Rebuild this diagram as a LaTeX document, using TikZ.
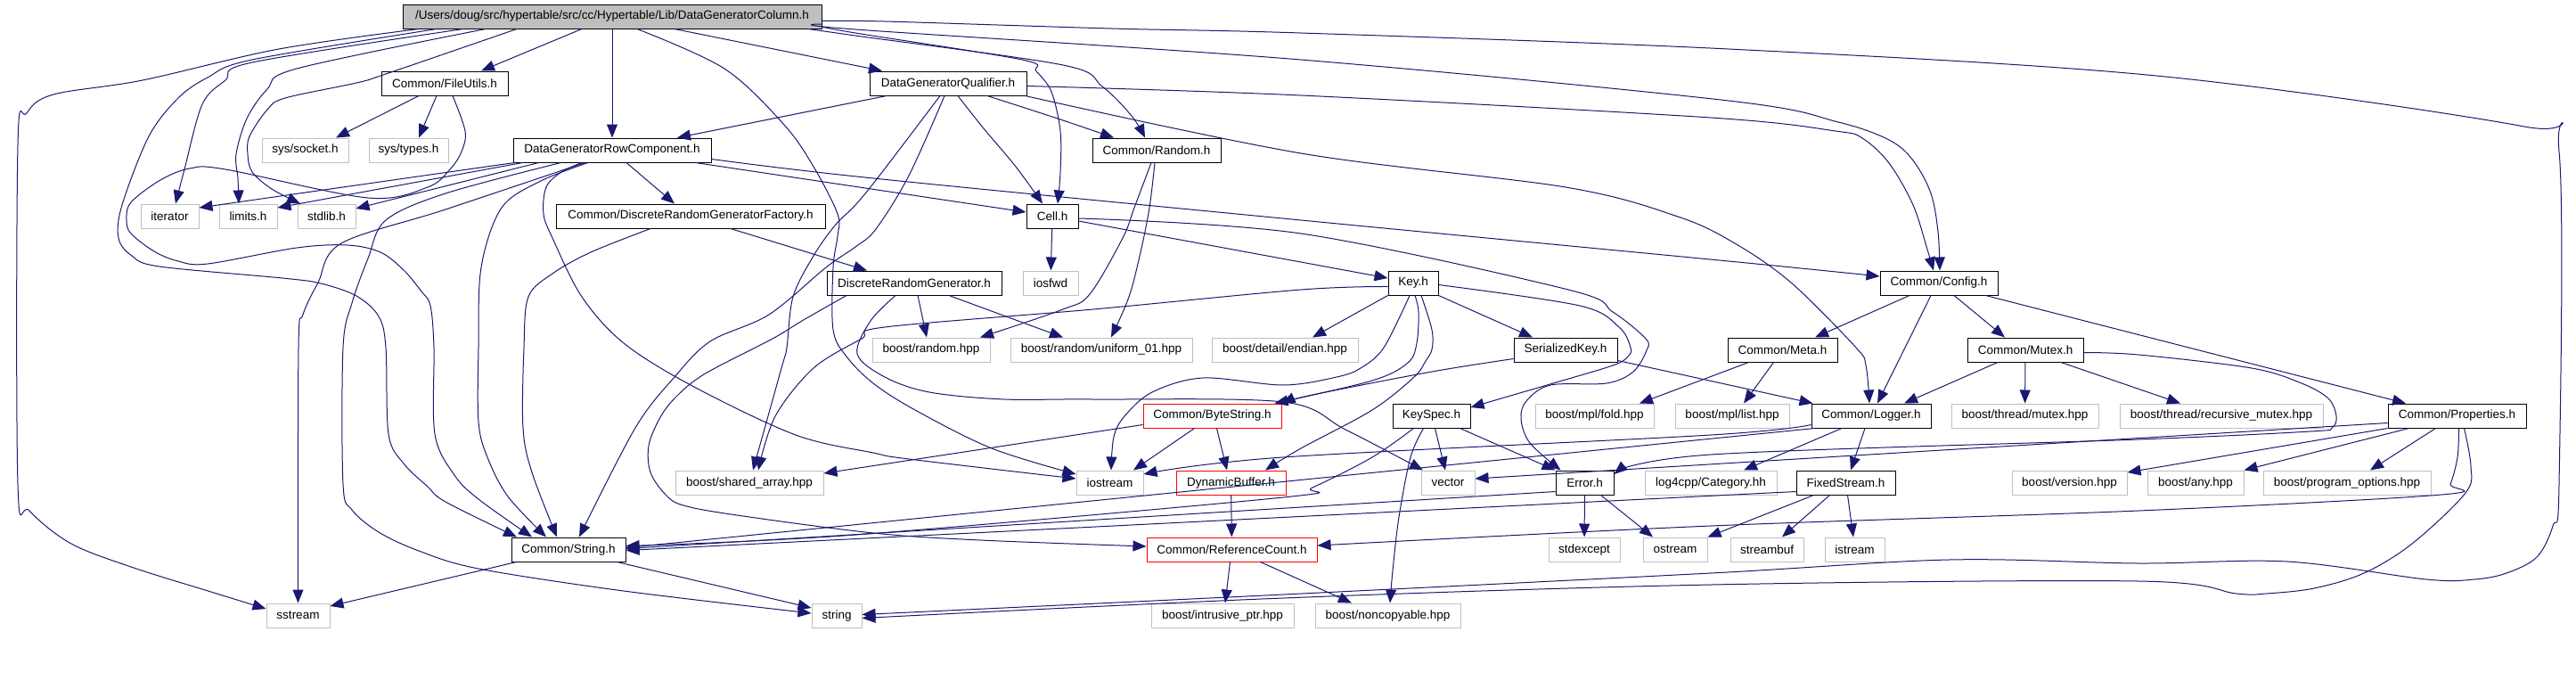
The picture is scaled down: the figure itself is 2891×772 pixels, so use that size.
\documentclass[tikz,border=0pt]{standalone}
\usepackage{fontspec}
\setmainfont{Liberation Sans}
\usetikzlibrary{arrows.meta}
\definecolor{navy}{RGB}{25,25,112}
\definecolor{grayb}{RGB}{191,191,191}
\begin{document}
\begin{tikzpicture}[x=0.5pt,y=-0.5pt,
  box/.style={draw=black, fill=white, line width=0.5pt, inner sep=0pt, minimum height=13.5pt, font=\fontsize{6.75pt}{8pt}\selectfont, text=black},
  sysbox/.style={box, draw=grayb},
  redbox/.style={box, draw=red},
  rootbox/.style={box, fill=grayb},
  edge/.style={draw=navy, line width=0.5pt, -{Triangle[length=7.5pt,width=6pt]}},
  smooth, tension=0.55]
\useasboundingbox (0,0) rectangle (2891,772);
% row 0
\node[rootbox, minimum width=235pt] (root) at (687,18.5) {/Users/doug/src/hypertable/src/cc/Hypertable/Lib/DataGeneratorColumn.h};
% row 1
\node[box, minimum width=71pt] (fileutils) at (499,93.5) {Common/FileUtils.h};
\node[box, minimum width=88pt] (dgq) at (1064,93.5) {DataGeneratorQualifier.h};
% row 2
\node[sysbox, minimum width=48.5pt] (socket) at (342.5,168.5) {sys/socket.h};
\node[sysbox, minimum width=44.5pt] (types) at (458.5,168.5) {sys/types.h};
\node[box, minimum width=111pt] (dgrc) at (687,168.5) {DataGeneratorRowComponent.h};
\node[box, minimum width=72pt] (random) at (1298,168.5) {Common/Random.h};
% row 3
\node[sysbox, minimum width=32.5pt] (iterator) at (190.5,242.5) {iterator};
\node[sysbox, minimum width=32.5pt] (limits) at (278.5,242.5) {limits.h};
\node[sysbox, minimum width=32.5pt] (stdlib) at (366.5,242.5) {stdlib.h};
\node[box, minimum width=151pt] (drgf) at (775,242.5) {Common/DiscreteRandomGeneratorFactory.h};
\node[box, minimum width=29pt] (cell) at (1181,242.5) {Cell.h};
% row 4
\node[box, minimum width=98pt] (drg) at (1026,317.5) {DiscreteRandomGenerator.h};
\node[sysbox, minimum width=31pt] (iosfwd) at (1179,317.5) {iosfwd};
\node[box, minimum width=28pt] (key) at (1586,317.5) {Key.h};
\node[box, minimum width=66pt] (config) at (2176,317.5) {Common/Config.h};
% row 5
\node[sysbox, minimum width=66pt] (brandom) at (1045,392.5) {boost/random.hpp};
\node[sysbox, minimum width=102pt] (uniform) at (1236,392.5) {boost/random/uniform\_01.hpp};
\node[sysbox, minimum width=82pt] (endian) at (1442,392.5) {boost/detail/endian.hpp};
\node[box, minimum width=58pt] (serkey) at (1757,392.5) {SerializedKey.h};
\node[box, minimum width=61.5pt] (meta) at (2000.5,392.5) {Common/Meta.h};
\node[box, minimum width=65pt] (mutex) at (2273,392.5) {Common/Mutex.h};
% row 6
\node[redbox, minimum width=77.5pt] (bytestr) at (1360.5,466.5) {Common/ByteString.h};
\node[box, minimum width=43.5pt] (keyspec) at (1606.5,466.5) {KeySpec.h};
\node[sysbox, minimum width=66.5pt] (fold) at (1789.5,466.5) {boost/mpl/fold.hpp};
\node[sysbox, minimum width=64pt] (list) at (1944,466.5) {boost/mpl/list.hpp};
\node[box, minimum width=67pt] (logger) at (2100,466.5) {Common/Logger.h};
\node[sysbox, minimum width=82.5pt] (tmutex) at (2272.5,466.5) {boost/thread/mutex.hpp};
\node[sysbox, minimum width=114pt] (rmutex) at (2493,466.5) {boost/thread/recursive\_mutex.hpp};
\node[box, minimum width=77.5pt] (props) at (2757.5,466.5) {Common/Properties.h};
% row 7
\node[sysbox, minimum width=83pt] (sharr) at (841,541.5) {boost/shared\_array.hpp};
\node[sysbox, minimum width=37.5pt] (iostream) at (1245.5,541.5) {iostream};
\node[redbox, minimum width=61.5pt] (dynbuf) at (1381.5,541.5) {DynamicBuffer.h};
\node[sysbox, minimum width=30pt] (vector) at (1625,541.5) {vector};
\node[box, minimum width=32.5pt] (error) at (1778.5,541.5) {Error.h};
\node[sysbox, minimum width=74pt] (category) at (1920,541.5) {log4cpp/Category.hh};
\node[box, minimum width=55.5pt] (fixed) at (2071.5,541.5) {FixedStream.h};
\node[sysbox, minimum width=64.5pt] (bversion) at (2322.5,541.5) {boost/version.hpp};
\node[sysbox, minimum width=54pt] (any) at (2464,541.5) {boost/any.hpp};
\node[sysbox, minimum width=94pt] (progopt) at (2634,541.5) {boost/program\_options.hpp};
% row 8
\node[box, minimum width=64pt] (string_h) at (638,616.5) {Common/String.h};
\node[redbox, minimum width=95.5pt] (refcount) at (1382.5,616.5) {Common/ReferenceCount.h};
\node[sysbox, minimum width=40pt] (stdexcept) at (1778,616.5) {stdexcept};
\node[sysbox, minimum width=36pt] (ostream) at (1880,616.5) {ostream};
\node[sysbox, minimum width=41pt] (streambuf) at (1983,616.5) {streambuf};
\node[sysbox, minimum width=33.5pt] (istream) at (2081.5,616.5) {istream};
% row 9
\node[sysbox, minimum width=35.5pt] (sstream) at (334.5,690.5) {sstream};
\node[sysbox, minimum width=28pt] (string) at (939,690.5) {string};
\node[sysbox, minimum width=80pt] (intrusive) at (1372,690.5) {boost/intrusive\_ptr.hpp};
\node[sysbox, minimum width=81.5pt] (noncopy) at (1557.5,690.5) {boost/noncopyable.hpp};

% ---------- root edges
\draw[edge] ([xshift=-17pt]root.south) -- ([xshift=20.5pt]fileutils.north);
\draw[edge] (root.south) -- (dgrc.north);
\draw[edge] ([xshift=35pt]root.south) -- ([xshift=-37pt]dgq.north);
\draw[edge] plot coordinates {([xshift=110pt]root.south) (960,40) (1193,73) (1237,97) (1270,130) ([xshift=-6.5pt]random.north)};
\draw[edge] plot coordinates {([yshift=-5.75pt]root.east) (960,37) (1147,67) (1163,80) (1180,103) (1190,147) (1190,193) ([xshift=3pt]cell.north)};
\draw[edge] plot coordinates {([yshift=-4.25pt]root.east) (960,33) (1460,67) (1940,113) (2063,137) (2120,157) (2147,180) (2167,217) (2175,260) ([xshift=0.5pt]config.north)};
\draw[edge] plot coordinates {([yshift=-2.5pt]root.east) (993,24) (1247,32) (1460,37) (1940,55) (2420,85) (2833,142) (2872,170) (2872,543) (2865,590) (2847,625) (2813,643) (2777,650) (2723,650) (2567,630) (2400,632) (2187,628) (1920,643) (1440,667) ([yshift=0.5pt]string.east)};
\draw[edge] plot coordinates {([xshift=-108.5pt]root.south) (313,55) (160,90) (60,106) (30,127) (20,163) (20,543) (33,573) (80,610) (150,637) (240,665) ([yshift=3.75pt]sstream.west)};
\draw[edge] plot coordinates {([xshift=-98.5pt]root.south) (283,67) (233,87) (200,110) (167,153) (137,230) (133,267) (148,287) (179,299) (317,312) (360,318) (400,332) (425,355) (433,390) (436,487) (453,520) (480,546) (500,563) ([xshift=-29pt]string_h.north)};
\draw[edge] plot coordinates {([xshift=-83.5pt]root.south) (283,70) (253,90) (227,117) (207,190) ([xshift=3.25pt]iterator.north)};
\draw[edge] plot coordinates {([xshift=-71pt]root.south) (333,77) (300,100) (277,133) (265,173) (267,200) ([xshift=-5.25pt]limits.north)};
\draw[edge] plot coordinates {([xshift=-53.5pt]root.south) (433,83) (400,93) (320,110) (300,123) (280,153) (278,173) (283,193) (305,212) ([xshift=-14.75pt]stdlib.north)};
\draw[edge] plot coordinates {([xshift=14pt]root.south) (813,77) (880,140) (913,187) (940,240) (940,265) (935,300) (935,370) (950,400) (980,430) (1027,460) (1113,503) ([yshift=4.75pt]iostream.west)};
% ---------- FileUtils
\draw[edge] ([xshift=-14.5pt]fileutils.south) -- ([xshift=17.25pt]socket.north);
\draw[edge] ([xshift=-4.5pt]fileutils.south) -- ([xshift=5.75pt]types.north);
\draw[edge] plot coordinates {([xshift=4.5pt]fileutils.south) (522,147) (518,170) (505,190) (480,210) (413,222) (253,190) (213,189) (180,202) (147,227) (142,247) (147,262) (173,282) (200,293) (233,296) (333,278) (390,275) (427,283) (453,303) (473,327) (483,343) (487,390) (488,487) (510,533) (537,560) ([xshift=-20.5pt]string_h.north)};
% ---------- DataGeneratorRowComponent
\draw[edge] ([xshift=1pt]dgrc.south west) -- ([yshift=4.75pt]iterator.east);
\draw[edge] ([xshift=5.5pt]dgrc.south west) -- ([yshift=4.75pt]limits.east);
\draw[edge] ([xshift=14.5pt]dgrc.south west) -- ([yshift=4.25pt]stdlib.east);
\draw[edge] plot coordinates {([xshift=27pt]dgrc.south west) (500,217) (433,247) (413,290) (395,340) (385,390) (385,543) (395,572) (425,597) (470,618) (537,638) (700,663) ([yshift=1.25pt]string.west)};
\draw[edge] plot coordinates {([xshift=40.5pt]dgrc.south west) (500,235) (383,273) (357,317) (340,353) (335,390) (sstream.north)};
\draw[edge] plot coordinates {([xshift=-13.5pt]dgrc.south) (607,203) (563,233) (540,300) (537,390) (537,473) (547,513) (570,557) ([xshift=-12.5pt]string_h.north)};
\draw[edge] ([xshift=8pt]dgrc.south) -- ([xshift=-9pt]drgf.north);
\draw[edge] ([xshift=-9pt]dgrc.south east) -- ([yshift=2.25pt]cell.west);
\draw[edge] plot coordinates {([yshift=-5pt]dgrc.east) (980,200) (1460,247) (1940,293) ([yshift=3.75pt]config.west)};
\draw[edge] plot coordinates {([xshift=-17pt]dgrc.south) (630,193) (613,210) (610,240) (620,267) (653,333) (700,385) (777,433) (893,488) (980,508) (1020,515) ([yshift=2.25pt]iostream.west)};
% ---------- DataGeneratorQualifier
\draw[edge] ([xshift=-34.5pt]dgq.south) -- ([xshift=36.5pt]dgrc.north);
\draw[edge] plot coordinates {([xshift=22pt]dgq.south) (1187,133) ([xshift=-24pt]random.north)};
\draw[edge] plot coordinates {([xshift=5.5pt]dgq.south) (1103,143) (1140,187) ([xshift=-5.5pt]cell.north)};
\draw[edge] plot coordinates {([yshift=-1.5pt]dgq.east) (1460,107) (1920,132) (2060,147) (2090,155) (2120,183) (2147,230) (2163,280) ([xshift=-3pt]config.north)};
\draw[edge] plot coordinates {([xshift=-1pt]dgq.south east) (1460,172) (1757,210) (1883,243) (1947,273) (2010,317) (2083,390) (2094,410) ([xshift=-1pt]logger.north)};
\draw[edge] plot coordinates {([xshift=-4.5pt]dgq.south) (987,197) (960,230) (937,253) (913,287) (890,333) (883,390) (877,413) ([xshift=2pt]sharr.north)};
\draw[edge] plot coordinates {([xshift=-2pt]dgq.south) (1020,197) (983,257) (960,277) (927,300) (863,353) (797,383) (757,423) (713,480) ([xshift=6pt]string_h.north)};
% ---------- Random
\draw[edge] plot coordinates {([xshift=-3pt]random.south) (1273,233) (1260,267) (1223,330) (1193,347) ([xshift=27.5pt]brandom.north)};
\draw[edge] plot coordinates {([xshift=-1pt]random.south) (1290,233) (1280,283) (1267,333) ([xshift=5.5pt]uniform.north)};
% ---------- Cell
\draw[edge] (cell) -- (iosfwd);
\draw[edge] ([yshift=-2.75pt]cell.east) -- ([yshift=2.75pt]key.west);
\draw[edge] plot coordinates {([yshift=-1.25pt]cell.east) (1460,262) (1760,325) (1810,350) (1847,380) (1848,393) (1833,417) (1803,430) (1740,432) (1713,450) (1707,470) (1717,497) ([xshift=3pt]error.north west)};
% ---------- DRGF
\draw[edge] ([xshift=22.5pt]drgf.south) -- ([xshift=-26.5pt]drg.north);
\draw[edge] plot coordinates {([xshift=-22.5pt]drgf.south) (663,283) (620,307) (593,333) (588,390) (587,480) (597,530) ([xshift=-6.5pt]string_h.north)};
% ---------- DRG
\draw[edge] ([xshift=2pt]drg.south) -- ([xshift=-2.5pt]brandom.north);
\draw[edge] ([xshift=19.5pt]drg.south) -- ([xshift=-21.5pt]uniform.north);
\draw[edge] plot coordinates {([xshift=-38pt]drg.south) (900,360) (867,380) (790,420) (757,447) (740,470) (728,500) (730,530) (747,555) (767,567) (827,578) (980,598) (1100,606) ([yshift=1.75pt]refcount.west)};
\draw[edge] plot coordinates {([xshift=-10.5pt]drg.south) (977,360) (962,397) (993,423) (1043,440) (1127,448) (1227,448) (1440,451) (1510,482) ([xshift=-14pt]vector.north)};
% ---------- Key
\draw[edge] (key.south west) -- ([xshift=15.5pt]endian.north);
\draw[edge] (key.south east) -- ([xshift=-18.5pt]serkey.north);
\draw[edge] plot coordinates {([xshift=-2pt]key.south) (1553,390) (1527,413) (1500,423) (1440,432) (1350,424) (1293,440) (1262,467) (1250,490) ([xshift=0.75pt]iostream.north)};
\draw[edge] plot coordinates {([xshift=1pt]key.south) (1592,350) (1590,385) (1580,407) (1540,427) ([xshift=-4pt]bytestr.north east)};
\draw[edge] plot coordinates {([xshift=4.5pt]key.south) (1607,370) (1607,392) (1600,405) (1587,423) (1540,460) (1460,503) ([xshift=19.25pt]dynbuf.north)};
\draw[edge] plot coordinates {([yshift=-1pt]key.east) (1773,343) (1817,367) (1830,390) (1827,400) (1810,410) (1743,430) ([yshift=4.75pt]keyspec.east)};
\draw[edge] plot coordinates {([yshift=-2pt]key.west) (1460,325) (1227,347) (993,367) (967,380) (913,413) (870,467) ([xshift=5pt]sharr.north)};
% ---------- SerializedKey
\draw[edge] ([yshift=1pt]serkey.south east) -- ([xshift=1pt]logger.north west);
\draw[edge] plot coordinates {([yshift=2pt]serkey.south west) (1607,417) (1473,443) (bytestr.north east)};
% ---------- Config
\draw[edge] ([xshift=-16.5pt]config.south) -- ([xshift=18.25pt]meta.north);
\draw[edge] ([xshift=-4.5pt]config.south) -- ([xshift=3.5pt]logger.north);
\draw[edge] ([xshift=8.5pt]config.south) -- ([xshift=-11.5pt]mutex.north);
\draw[edge] ([xshift=-7pt]config.south east) -- ([xshift=-28.75pt]props.north);
% ---------- Meta
\draw[edge] ([xshift=-19pt]meta.south) -- ([xshift=25.25pt]fold.north);
\draw[edge] ([xshift=-5pt]meta.south) -- ([xshift=6.5pt]list.north);
% ---------- Mutex
\draw[edge] ([xshift=-15.5pt]mutex.south) -- ([xshift=18.5pt]logger.north);
\draw[edge] (mutex) -- (tmutex);
\draw[edge] ([xshift=20pt]mutex.south) -- ([xshift=-23pt]rmutex.north);
\draw[edge] plot coordinates {([yshift=-1.5pt]mutex.east) (2400,398) (2527,413) (2583,430) (2613,447) (2622,467) (2617,480) (2593,484) (2400,493) (1920,510) ([yshift=4.75pt]error.east)};
% ---------- ByteString
\draw[edge] ([xshift=-10pt]bytestr.south) -- ([xshift=13.25pt]iostream.north);
\draw[edge] ([xshift=2.5pt]bytestr.south) -- ([xshift=-2.25pt]dynbuf.north);
\draw[edge] ([yshift=-5pt]bytestr.west) -- ([yshift=5.25pt]sharr.east);
% ---------- KeySpec
\draw[edge] ([xshift=2pt]keyspec.south) -- ([xshift=-1.5pt]vector.north);
\draw[edge] ([xshift=16pt]keyspec.south) -- (error.north west);
\draw[edge] plot coordinates {([xshift=-4.5pt]keyspec.south) (1583,513) (1570,580) (1563,640) ([xshift=1.25pt]noncopy.north)};
\draw[edge] plot coordinates {([xshift=-10pt]keyspec.south) (1540,513) (1473,547) (1440,558) (960,600) ([yshift=2pt]string_h.east)};
% ---------- DynamicBuffer
\draw[edge] (dynbuf) -- (refcount);
% ---------- Logger
\draw[edge] ([xshift=-16.5pt]logger.south) -- ([xshift=18.5pt]category.north);
\draw[edge] ([xshift=-3.5pt]logger.south) -- ([xshift=2.75pt]fixed.north);
\draw[edge] plot coordinates {([yshift=-5pt]logger.west) (1920,488) (1440,513) ([yshift=4.75pt]iostream.east)};
\draw[edge] ([xshift=2pt]logger.south west) -- ([yshift=1pt]string_h.east);
% ---------- Error
\draw[edge] (error) -- (stdexcept);
\draw[edge] ([xshift=9pt]error.south) -- ([xshift=-12.5pt]ostream.north);
\draw[edge] ([yshift=-5pt]error.west) -- ([yshift=0.5pt]string_h.east);
% ---------- FixedStream
\draw[edge] ([xshift=-18pt]fixed.south) -- (ostream.north east);
\draw[edge] ([xshift=-9pt]fixed.south) -- ([xshift=8.5pt]streambuf.north);
\draw[edge] ([xshift=1pt]fixed.south) -- ([xshift=-0.75pt]istream.north);
\draw[edge] ([yshift=-5pt]fixed.west) -- ([yshift=-0.5pt]string_h.east);
% ---------- ReferenceCount
\draw[edge] ([xshift=-1pt]refcount.south) -- ([xshift=1.5pt]intrusive.north);
\draw[edge] ([xshift=16pt]refcount.south) -- ([xshift=-20.25pt]noncopy.north);
% ---------- String.h
\draw[edge] ([xshift=3pt]string_h.south west) -- ([yshift=5.25pt]sstream.east);
\draw[edge] ([xshift=-5pt]string_h.south east) -- ([yshift=4.25pt]string.west);
% ---------- Properties
\draw[edge] ([xshift=-12pt]props.south) -- ([xshift=13pt]progopt.north);
\draw[edge] ([xshift=-27pt]props.south) -- (any.north east);
\draw[edge] (props.south west) -- ([yshift=5.75pt]bversion.east);
\draw[edge] ([yshift=-4pt]props.west) -- ([yshift=2.25pt]vector.east);
\draw[edge] plot coordinates {([xshift=1pt]props.south) (2758,513) (2750,543) (2740,555) (2400,573) (1920,590) ([yshift=2.25pt]refcount.east)};
\draw[edge] plot coordinates {([xshift=4pt]props.south) (2773,523) (2767,553) (2707,610) (2653,643) (2597,660) (2543,666) (2510,666) (2400,652) (1920,656) (1440,671) ([yshift=-1.5pt]string.east)};
\end{tikzpicture}
\end{document}
